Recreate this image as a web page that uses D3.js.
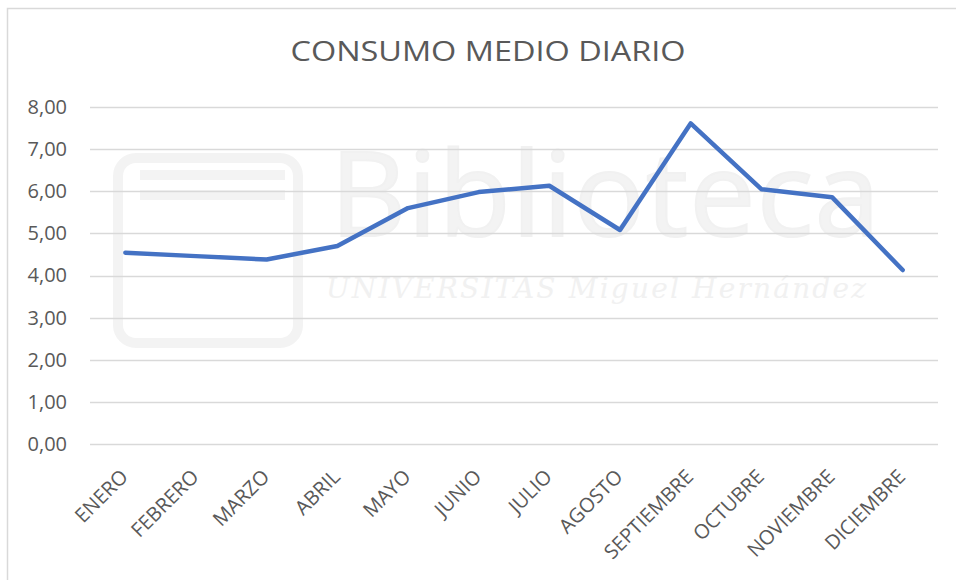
<!DOCTYPE html>
<html>
<head>
<meta charset="utf-8">
<script src="https://cdn.jsdelivr.net/npm/d3@7"></script>
<style>
  body { margin: 0; background: #fff; }
  text { font-family: "Open Sans", "Liberation Sans", sans-serif; }
</style>
</head>
<body>
<svg id="chart" width="956" height="580"></svg>
<script>
var meses = ["ENERO", "FEBRERO", "MARZO", "ABRIL", "MAYO", "JUNIO", "JULIO",
             "AGOSTO", "SEPTIEMBRE", "OCTUBRE", "NOVIEMBRE", "DICIEMBRE"];
var consumo = [4.54, 4.46, 4.38, 4.70, 5.60, 5.98, 6.13, 5.08, 7.61, 6.05, 5.86, 4.13];
var yTicks = [0, 1, 2, 3, 4, 5, 6, 7, 8];

var svg = d3.select("#chart"),
    margin = {top: 107, right: 18, bottom: 136, left: 90},
    width = +svg.attr("width") - margin.left - margin.right,
    height = +svg.attr("height") - margin.top - margin.bottom;

// marco del grafico (recortado a derecha y abajo)
svg.append("rect")
    .attr("x", 7.5).attr("y", 8.5)
    .attr("width", 980).attr("height", 600)
    .attr("fill", "#fff")
    .attr("stroke", "#d9d9d9")
    .attr("stroke-width", 1.5);

// marca de agua (muy tenue)
var wm = svg.append("g").attr("fill", "none").attr("stroke", "#f3f3f3").attr("stroke-width", 10);
wm.append("rect").attr("x", 118).attr("y", 158).attr("width", 180).attr("height", 185).attr("rx", 18);
wm.append("line").attr("x1", 140).attr("x2", 285).attr("y1", 175).attr("y2", 175);
wm.append("line").attr("x1", 140).attr("x2", 285).attr("y1", 195).attr("y2", 195);
svg.append("text")
    .attr("x", 330).attr("y", 236)
    .attr("fill", "#f3f3f3")
    .attr("stroke", "#f1f1f1")
    .attr("stroke-width", 2)
    .style("font-size", "118px")
    .attr("textLength", 550)
    .text("Biblioteca");
svg.append("text")
    .attr("x", 326).attr("y", 298)
    .attr("fill", "#f1f1f1")
    .style("font-family", "'DejaVu Serif', serif")
    .style("font-size", "28px")
    .style("font-style", "italic")
    .attr("textLength", 540)
    .text("UNIVERSITAS Miguel Hernández");

var g = svg.append("g").attr("transform", "translate(" + margin.left + "," + margin.top + ")");

var x = d3.scaleBand()
    .domain(meses)
    .range([0, width]);

var y = d3.scaleLinear()
    .domain([0, 8])
    .range([height, 0]);

// rejilla
g.append("g")
  .selectAll("line")
  .data(yTicks)
  .enter().append("line")
    .attr("x1", 0)
    .attr("x2", width)
    .attr("y1", function(d) { return Math.round(y(d)) + 0.5; })
    .attr("y2", function(d) { return Math.round(y(d)) + 0.5; })
    .attr("stroke", "#d9d9d9")
    .attr("stroke-width", 1.3);

// eje Y
var yAxis = g.append("g")
    .call(d3.axisLeft(y).tickValues(yTicks).tickSize(0).tickPadding(23)
      .tickFormat(function(d) { return d3.format(".2f")(d).replace(".", ","); }));
yAxis.select(".domain").remove();
yAxis.selectAll("text")
    .attr("fill", "#595959")
    .style("font-size", "20px");

// eje X
var xAxis = g.append("g")
    .attr("transform", "translate(0," + height + ")")
    .call(d3.axisBottom(x).tickSize(0));
xAxis.select(".domain").remove();
xAxis.selectAll("text")
    .attr("fill", "#595959")
    .style("font-size", "20px")
    .attr("text-anchor", "end")
    .attr("x", 0).attr("y", 0).attr("dy", 0)
    .attr("transform", "translate(4,34) rotate(-45)");

// linea
var line = d3.line()
    .x(function(d, i) { return x(meses[i]) + x.bandwidth() / 2; })
    .y(function(d) { return y(d); });

g.append("path")
    .datum(consumo)
    .attr("fill", "none")
    .attr("stroke", "#4472c4")
    .attr("stroke-width", 4.5)
    .attr("stroke-linejoin", "round")
    .attr("stroke-linecap", "round")
    .attr("d", line);

// titulo
svg.append("text")
    .attr("x", 488)
    .attr("y", 61)
    .attr("text-anchor", "middle")
    .attr("fill", "#595959")
    .style("font-size", "28px")
    .attr("textLength", 395)
    .attr("lengthAdjust", "spacingAndGlyphs")
    .text("CONSUMO MEDIO DIARIO");
</script>
</body>
</html>
